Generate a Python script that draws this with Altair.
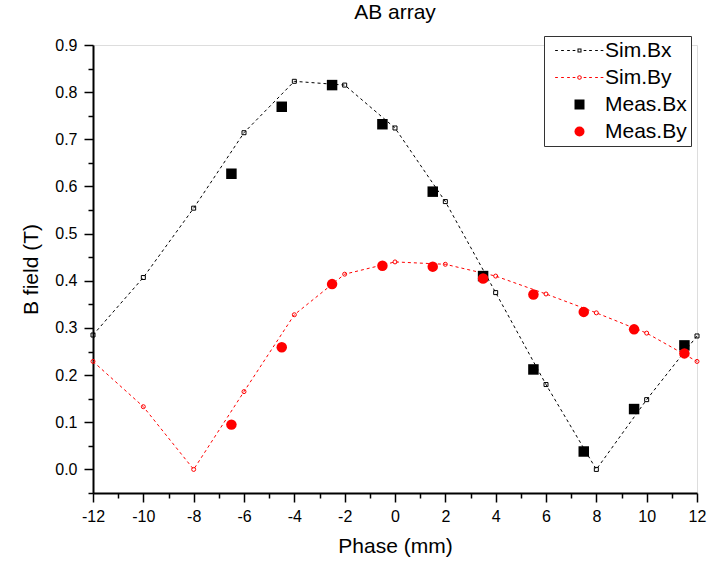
import altair as alt
import pandas as pd

# ---------------- data ----------------
sim_phase = [-12, -10, -8, -6, -4, -2, 0, 2, 4, 6, 8, 10, 12]
sim_bx = [0.285, 0.407, 0.554, 0.714, 0.823, 0.815, 0.724, 0.568, 0.375, 0.180, 0.000, 0.148, 0.283]
sim_by = [0.229, 0.133, 0.000, 0.165, 0.328, 0.414, 0.440, 0.435, 0.410, 0.372, 0.332, 0.289, 0.229]

meas_phase = [-6.5, -4.5, -2.5, -0.5, 1.5, 3.5, 5.5, 7.5, 9.5, 11.5]
meas_bx = [0.627, 0.769, 0.815, 0.732, 0.589, 0.410, 0.212, 0.038, 0.128, 0.263]
meas_by = [0.095, 0.259, 0.393, 0.432, 0.430, 0.405, 0.371, 0.334, 0.297, 0.246]

series_names = ["Sim.Bx", "Sim.By", "Meas.Bx", "Meas.By"]
series_colors = ["#000000", "#ff0000", "#000000", "#ff0000"]

x_tick_values = list(range(-12, 13))
y_tick_values = [round(-0.05 + 0.05 * i, 2) for i in range(20)]

FONT = "Liberation Sans"

sim_df = pd.DataFrame({
    "phase": sim_phase * 2,
    "value": sim_bx + sim_by,
    "series": ["Sim.Bx"] * len(sim_phase) + ["Sim.By"] * len(sim_phase),
})
meas_df = pd.DataFrame({
    "phase": meas_phase * 2,
    "value": meas_bx + meas_by,
    "series": ["Meas.Bx"] * len(meas_phase) + ["Meas.By"] * len(meas_phase),
})

# ---------------- legend symbols (filled-only paths) ----------------
def dash_rects():
    parts = []
    for c in [-4.6, -3.4, -2.2, -1.1, 1.1, 2.2, 3.4, 4.5]:
        parts.append(f"M{c-0.27:.2f},-0.1H{c+0.27:.2f}V0.1H{c-0.27:.2f}Z")
    return "".join(parts)

sym_bx = dash_rects() + "M-0.4,-0.4H0.4V0.4H-0.4ZM-0.2,-0.2V0.2H0.2V-0.2Z"
sym_by = dash_rects() + ("M0.45,0A0.45,0.45,0,1,1,-0.45,0A0.45,0.45,0,1,1,0.45,0Z"
                         "M0.25,0A0.25,0.25,0,1,0,-0.25,0A0.25,0.25,0,1,0,0.25,0Z")

# ---------------- axes ----------------
x_axis = alt.Axis(
    values=x_tick_values,
    labelExpr="datum.value % 2 == 0 ? '' + datum.value : ''",
    tickSize={"condition": {"test": "datum.value % 2 != 0", "value": 5}, "value": 9},
    grid=False, domainColor="black", domainWidth=2, tickColor="black", tickWidth=1.5,
    labelFont=FONT, labelFontSize=16, labelColor="black", labelPadding=6,
    labelOverlap=False, labelFlush=False,
    title="Phase (mm)", titleFont=FONT, titleFontSize=21, titleFontWeight="normal",
    titleColor="black", titlePadding=11,
)
y_axis = alt.Axis(
    values=y_tick_values,
    labelExpr="abs(round(datum.value * 20)) % 2 == 0 ? format(datum.value, '.1f') : ''",
    tickSize={"condition": {"test": "abs(round(datum.value * 20)) % 2 == 1", "value": 5}, "value": 9},
    grid=False, domainColor="black", domainWidth=2, tickColor="black", tickWidth=1.5,
    labelFont=FONT, labelFontSize=16, labelColor="black", labelPadding=7,
    labelOverlap=False, labelFlush=False,
    title="B field (T)", titleFont=FONT, titleFontSize=21, titleFontWeight="normal",
    titleColor="black", titlePadding=13,
)

X = alt.X("phase:Q", scale=alt.Scale(domain=[-12, 12], nice=False, zero=False), axis=x_axis)
Y = alt.Y("value:Q", scale=alt.Scale(domain=[-0.05, 0.9], nice=False, zero=False), axis=y_axis)

legend = alt.Legend(
    title=None, orient="none", legendX=451, legendY=-9,
    strokeColor="#333333", fillColor="white", padding=4,
    labelFont=FONT, labelFontSize=21, labelColor="black",
    symbolSize=100, symbolStrokeWidth=0, rowPadding=5,
    symbolOffset=21, labelOffset=15,
)

base_sim = alt.Chart(sim_df)

line_bx = base_sim.transform_filter("datum.series == 'Sim.Bx'").mark_line(
    color="#000000", strokeDash=[3, 3], strokeWidth=1).encode(x=X, y=Y)
line_by = base_sim.transform_filter("datum.series == 'Sim.By'").mark_line(
    color="#ff0000", strokeDash=[3, 3], strokeWidth=1).encode(x=X, y=Y)
pts_bx = base_sim.transform_filter("datum.series == 'Sim.Bx'").mark_point(
    shape="square", filled=False, size=16, color="#000000", strokeWidth=1, opacity=1).encode(x=X, y=Y)
pts_by = base_sim.transform_filter("datum.series == 'Sim.By'").mark_point(
    shape="circle", filled=False, size=16, color="#ff0000", strokeWidth=1, opacity=1).encode(x=X, y=Y)

meas = alt.Chart(meas_df).mark_point(filled=True, size=110, opacity=1).encode(
    x=X, y=Y,
    color=alt.Color("series:N", scale=alt.Scale(domain=series_names, range=series_colors), legend=legend),
    shape=alt.Shape("series:N", scale=alt.Scale(domain=series_names, range=[sym_bx, sym_by, "square", "circle"]), legend=legend),
)

chart = alt.layer(line_bx, line_by, pts_bx, pts_by, meas).properties(
    width=604, height=448,
    padding={"left": 93, "top": 45, "right": 14, "bottom": 71},
    autosize=alt.AutoSizeParams(type="none"),
    title=alt.TitleParams("AB array", font=FONT, fontSize=21, fontWeight="normal",
                          color="black", anchor="middle", offset=13),
).configure_view(strokeWidth=0).configure(background="white")

chart.save("out.html", embed_options={"renderer": "svg", "actions": False})
